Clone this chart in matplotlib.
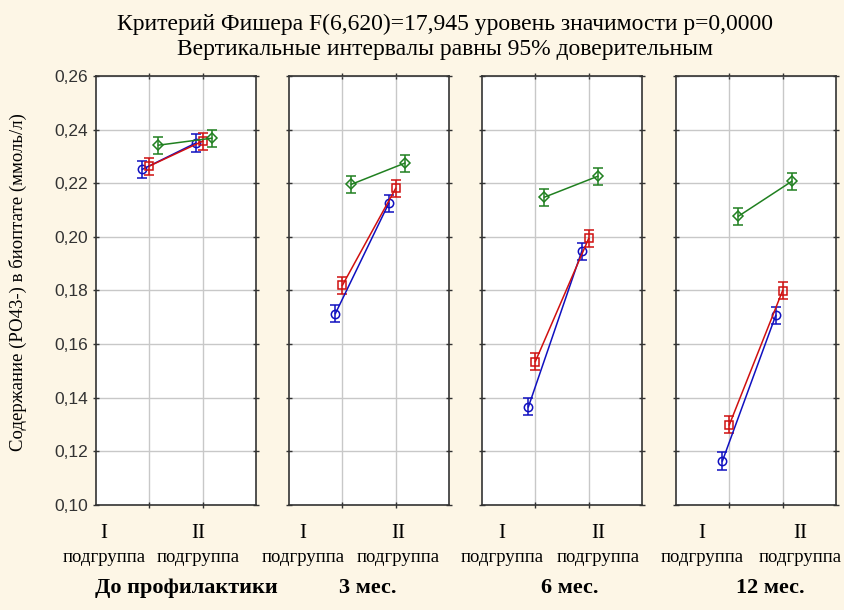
import matplotlib.pyplot as plt
import numpy as np

periods = ['До профилактики', '3 мес.', '6 мес.', '12 мес.']
subgroups = ['I', 'II']

# means per period: [I, II]
blue_vals = [[0.2252, 0.2350], [0.1714, 0.2125], [0.1366, 0.1946], [0.1164, 0.1707]]
red_vals = [[0.2264, 0.2357], [0.1819, 0.2181], [0.1535, 0.1994], [0.1299, 0.1800]]
green_vals = [[0.2342, 0.2368], [0.2196, 0.2275], [0.2148, 0.2226], [0.2077, 0.2207]]
ci = 0.0032

bg = '#fdf6e6'
fig = plt.figure(figsize=(8.45, 6.1), dpi=100, facecolor=bg)
serif = 'Liberation Serif'

W, H = 845, 610
lefts = [96, 289, 482, 676]
pw = 160
top, bottom = 76, 505

# label layout (pixels)
sub_x = [[104, 198], [303, 398], [502, 598], [702, 800]]
period_x = [186, 368, 570, 770]

series = [
    (blue_vals, '#1010c0', 'o', -0.13),
    (red_vals, '#d01010', 's', 0.0),
    (green_vals, '#208020', 'D', 0.17),
]

for i, x0 in enumerate(lefts):
    ax = fig.add_axes([x0 / W, 1 - bottom / H, pw / W, (bottom - top) / H])
    ax.set_facecolor('white')
    ax.set_xlim(0, 3)
    ax.set_ylim(0.10, 0.26)
    ax.set_yticks(np.arange(0.10, 0.261, 0.02))
    ax.set_xticks([1, 2])
    ax.grid(True, color='#c8c8c8', lw=1)
    ax.set_axisbelow(True)
    ax.tick_params(axis='both', direction='inout', length=5, width=1,
                   right=True, top=True, color='#333333')
    ax.tick_params(axis='x', labelbottom=False)
    for s in ax.spines.values():
        s.set_color('#333333')
        s.set_linewidth(1.2)
    if i == 0:
        ax.set_yticklabels([f'{v:.2f}'.replace('.', ',') for v in np.arange(0.10, 0.261, 0.02)],
                           fontsize=12.5, family='Liberation Sans', color='#333333')
        ax.set_ylabel('Содержание (РО43-) в биоптате (ммоль/л)', family=serif, fontsize=13.5)
        ax.yaxis.set_label_coords(-0.43, 0.52)
    else:
        ax.tick_params(axis='y', labelleft=False)
    for vals, col, mk, off in series:
        xs = np.array([1, 2]) + off
        ax.errorbar(xs, vals[i], yerr=ci, color=col, marker=mk, mfc='none', mec=col,
                    ms=6 if mk != 'D' else 5, lw=1.1, capsize=3.5, elinewidth=1.1, mew=1.1)
    # category labels
    for k, sg in enumerate(subgroups):
        fig.text(sub_x[i][k] / W, 1 - 533 / H, sg, ha='center', va='center',
                 family=serif, fontsize=15)
        fig.text(sub_x[i][k] / W, 1 - 557 / H, 'подгруппа', ha='center', va='center',
                 family=serif, fontsize=13.5)
    fig.text(period_x[i] / W, 1 - 588 / H, periods[i], ha='center', va='center',
             family=serif, fontsize=16, fontweight='bold')

fig.text(445 / W, 1 - 24 / H, 'Критерий Фишера F(6,620)=17,945 уровень значимости p=0,0000',
         ha='center', va='center', family=serif, fontsize=17)
fig.text(445 / W, 1 - 50 / H, 'Вертикальные интервалы равны 95% доверительным',
         ha='center', va='center', family=serif, fontsize=17)

fig.savefig('out.png', dpi=100, facecolor=bg)
